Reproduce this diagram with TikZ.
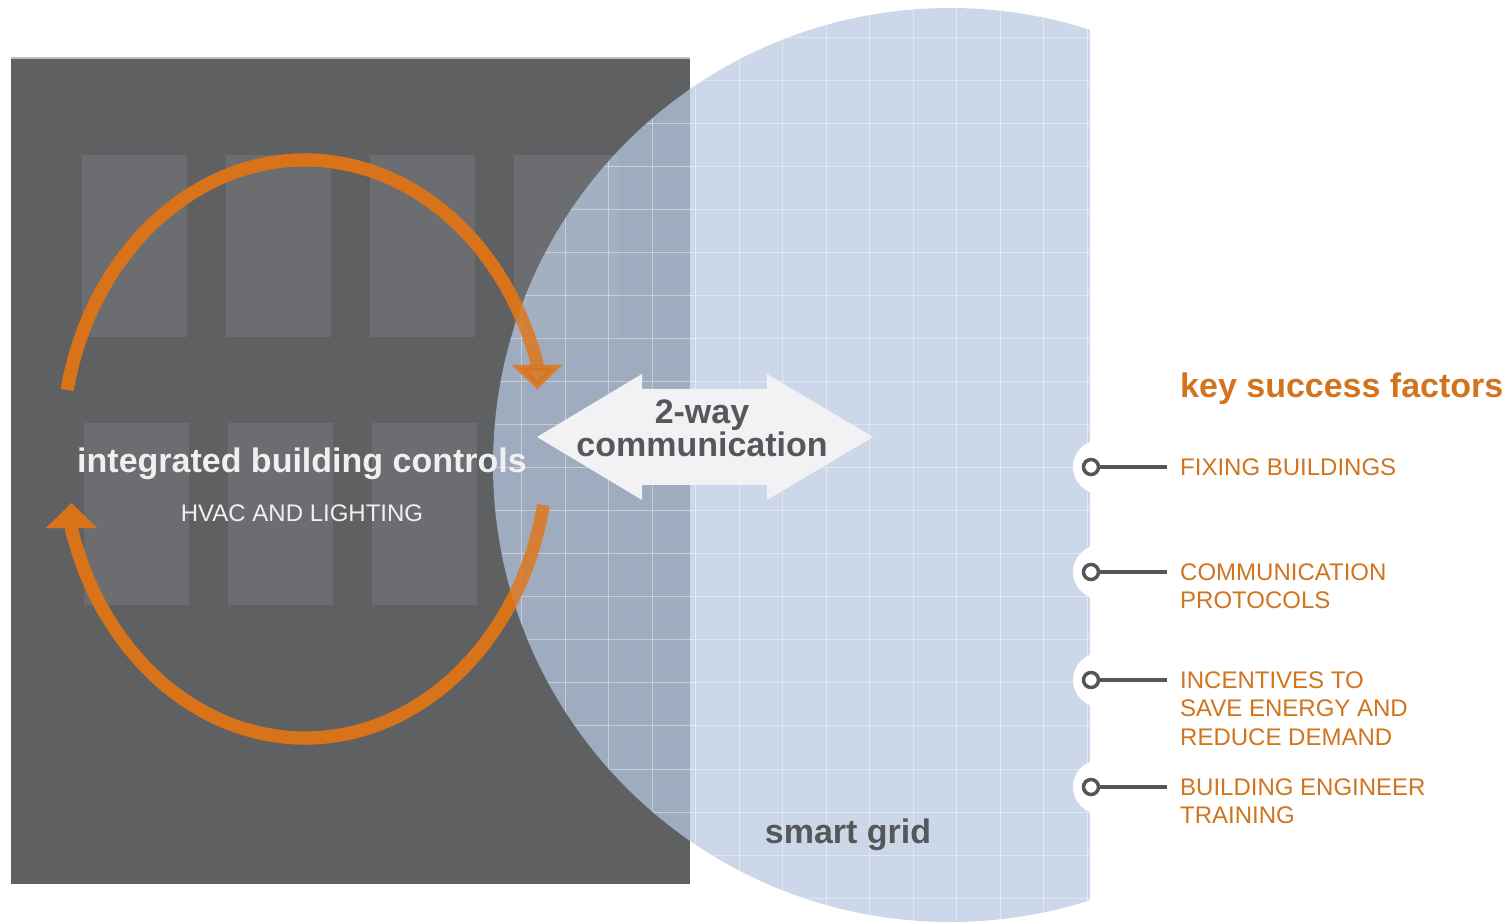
\documentclass[tikz,border=0pt]{standalone}
\usepackage{fontspec}
\setmainfont{Liberation Sans}
\usetikzlibrary{arrows.meta}
\definecolor{bldg}{RGB}{94,96,98}
\definecolor{pane}{RGB}{108,109,112}
\definecolor{gridblue}{RGB}{185,202,227}
\definecolor{loop}{RGB}{216,115,26}
\definecolor{keyorange}{RGB}{210,116,30}
\definecolor{inktext}{RGB}{85,87,90}
\definecolor{arrowwhite}{RGB}{242,242,244}
\definecolor{marker}{RGB}{85,86,88}
% the two half loops of the control cycle, each ending in a vertical tip
\newcommand\controlloops{%
  \draw[loopline] (305,472) ++(168.2:243 and 289)
    arc[start angle=168.2,end angle=17.2,x radius=243,y radius=289] -- ++(0,-26);
  \draw[loopline] (305,472) ++(-11.2:243 and 289)
    arc[start angle=-11.2,end angle=-163.9,x radius=243,y radius=289] -- ++(0,26);
}
\begin{document}
\begin{tikzpicture}[x=1pt,y=1pt,
  loopline/.style={draw=loop,line width=13pt,-{Triangle[length=25pt,width=50pt]}},
  keytext/.style={text=keyorange,font=\fontsize{24}{28.5}\selectfont,align=left,inner sep=0pt,anchor=north west},
  ring/.style={circle,draw=marker,line width=3.5pt,fill=white,minimum size=15pt,inner sep=0pt},
  keyline/.style={draw=marker,line width=3.5pt},
  bump/.style={fill=white}]
\useasboundingbox (0,0) rectangle (1509,921);
\fill[white] (0,0) rectangle (1509,921);

% building block with its windows
\fill[bldg] (11,37) rectangle (690,863);
\draw[black!25,line width=1.5pt] (11,863) -- (690,863);
\foreach \x in {82,226,370,514} \fill[pane] (\x,584) rectangle ++(105,182);
\foreach \x in {84,228,372} \fill[pane] (\x,316) rectangle ++(105,182);

% control loops (solid pass, under the grid disc)
\controlloops

% smart grid disc with its grid
\begin{scope}
  \clip (0,0) rectangle (1090,921);
  \fill[gridblue,opacity=.72] (950,456) circle (457);
  \begin{scope}
    \clip (950,456) circle (457);
    \foreach \k in {-6,...,8} \draw[white,opacity=.4,line width=1pt] (739+43.5*\k,0) -- (739+43.5*\k,921);
    \foreach \k in {-1,...,21} \draw[white,opacity=.4,line width=1pt] (0,883-43*\k) -- (1100,883-43*\k);
  \end{scope}
\end{scope}

% control loops (translucent pass, over the grid disc)
\begin{scope}[opacity=.8]
  \controlloops
\end{scope}

% two-way arrow
\fill[arrowwhite] (537,484) -- (642,547) -- (642,532) -- (767,532) -- (767,547)
  -- (873,484) -- (767,421) -- (767,436) -- (642,436) -- (642,421) -- cycle;
\node[align=center,text=inktext,font=\bfseries\fontsize{34}{33}\selectfont,inner sep=0pt] (comm) at (702,492.7) {2-way\\communication};

% labels on the building
\node[text=white!94!black,font=\bfseries\fontsize{34}{34}\selectfont,anchor=base,inner sep=0pt] (ibc) at (302,448) {integrated building controls};
\node[text=white!94!black,font=\fontsize{24}{24}\selectfont,anchor=base,inner sep=0pt] (hvac) at (302,399) {HVAC AND LIGHTING};

\node[text=inktext,font=\bfseries\fontsize{34}{34}\selectfont,anchor=base,inner sep=0pt] (sg) at (848,78) {smart grid};

% key success factors
\node[text=keyorange,font=\bfseries\fontsize{34}{34}\selectfont,anchor=base west,inner sep=0pt] (ksf) at (1180,523) {key success factors};

\foreach \y in {454,349,241,134} \fill[bump] (1100,\y) circle (27);

\node[ring] (m1) at (1091,454) {};
\node[ring] (m2) at (1091,349) {};
\node[ring] (m3) at (1091,241) {};
\node[ring] (m4) at (1091,134) {};
\coordinate (e1) at (1167,454);
\coordinate (e2) at (1167,349);
\coordinate (e3) at (1167,241);
\coordinate (e4) at (1167,134);
\draw[keyline] (m1.east) -- (e1);
\draw[keyline] (m2.east) -- (e2);
\draw[keyline] (m3.east) -- (e3);
\draw[keyline] (m4.east) -- (e4);

\node[keytext] (k1) at (1180,462.6) {FIXING BUILDINGS};
\node[keytext] (k2) at (1180,357.6) {COMMUNICATION\\PROTOCOLS};
\node[keytext] (k3) at (1180,249.6) {INCENTIVES TO\\SAVE ENERGY AND\\REDUCE DEMAND};
\node[keytext] (k4) at (1180,142.6) {BUILDING ENGINEER\\TRAINING};
\end{tikzpicture}
\end{document}
